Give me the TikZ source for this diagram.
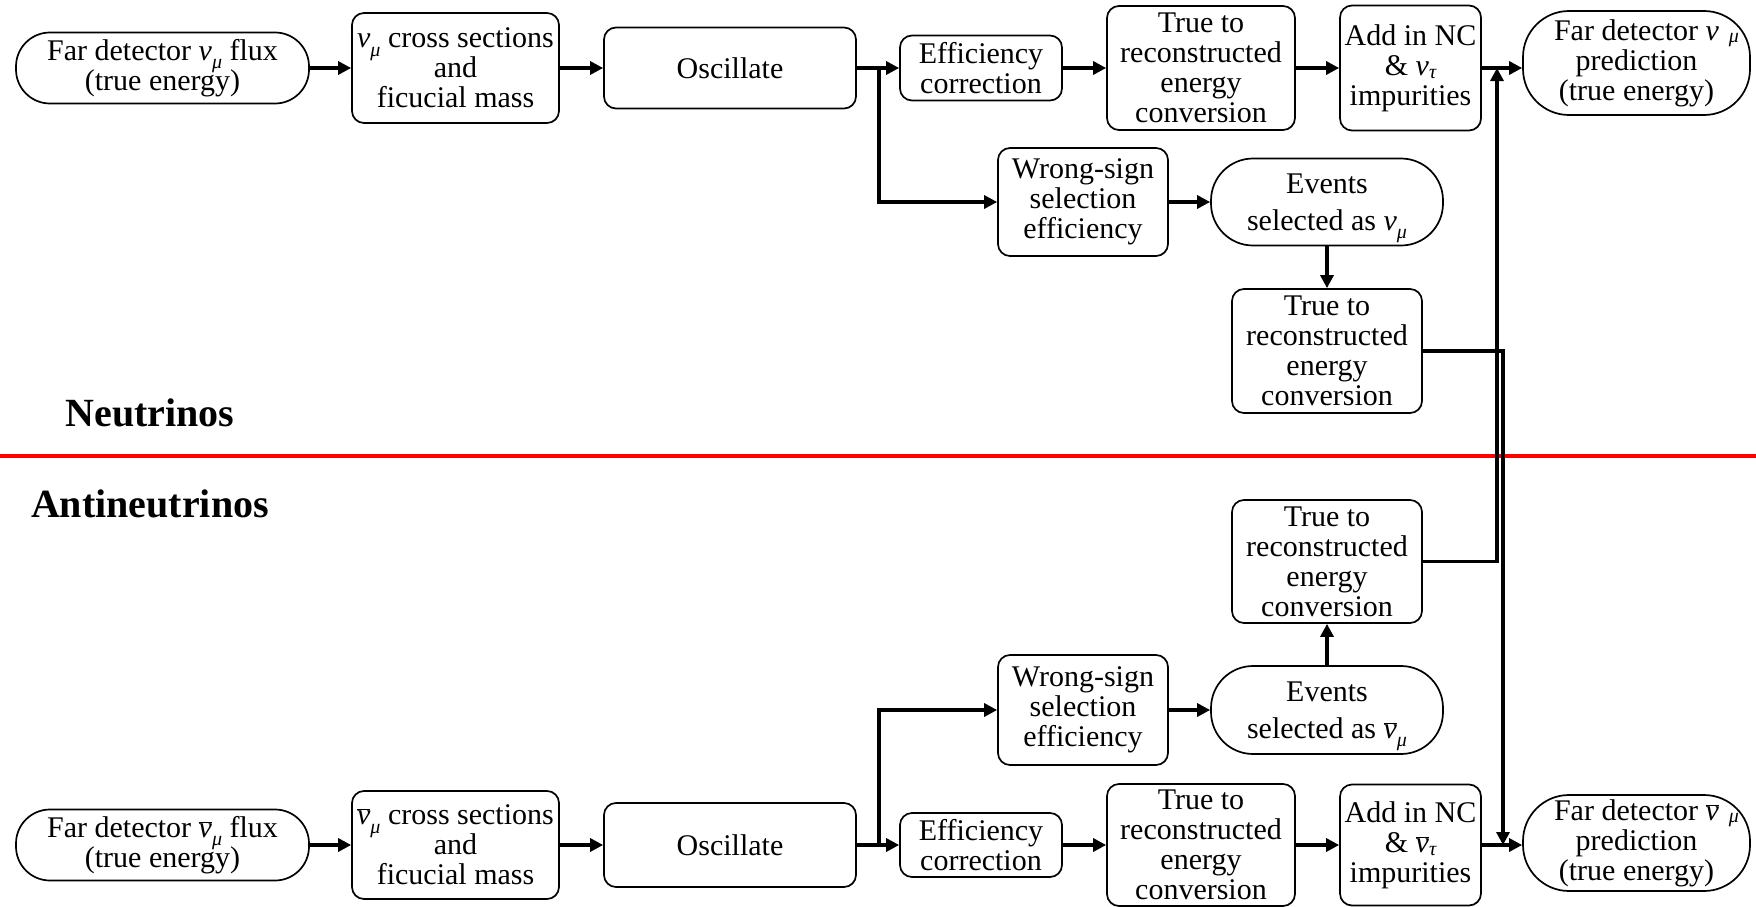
\documentclass[tikz,border=0pt]{standalone}
\usepackage{fontspec}
\setmainfont{Liberation Serif}
\usetikzlibrary{arrows.meta}

% neutrino symbols
\newcommand\nuit{{\itshape ν}}
\newcommand\nubarit{\ensuremath{\overline{\hbox{\itshape ν}}}}
\newcommand\lowsub[1]{\raisebox{-0.6ex}[0pt][0pt]{\fontsize{20}{20}\selectfont\itshape #1}}
\newcommand\tausub{\raisebox{-0.25ex}[0pt][0pt]{\fontsize{20}{20}\selectfont\itshape τ}}
\newcommand\sidemu{\rlap{\hspace{10pt}\raisebox{-0.15ex}{\fontsize{20}{20}\selectfont\itshape μ}}}

\begin{document}
\begin{tikzpicture}[x=1pt, y=-1pt,
  font=\fontsize{30}{30}\selectfont,
  pbox/.style={draw, line width=1.7pt, rounded corners=12pt, align=center, inner sep=0pt},
  pill/.style={draw, line width=1.7pt, rounded corners=#1, align=center, inner sep=0pt},
  pill/.default=34pt,
  arr/.style={line width=3.1pt, -{Triangle[length=13pt,width=13pt]}},
  section/.style={font=\fontsize{40}{40}\selectfont\bfseries}]

\useasboundingbox (0,0) rectangle (1756,907);

% separator between the two halves
\draw[red, line width=4pt] (0,456) -- (1756,456);
\node[section] (lnu) at (150,413) {Neutrinos};
\node[section] (lan) at (150,504) {Antineutrinos};

% ---------------- neutrino chain ----------------
\node[pill, minimum width=293pt, minimum height=71pt] (fluxnu) at (162.5,68)
  {Far detector \nuit\lowsub{μ} flux\\(true energy)};
\node[pbox, minimum width=207pt, minimum height=110pt] (xsecnu) at (455.5,68)
  {\nuit\lowsub{μ} cross sections\\and\\ficucial mass};
\node[pbox, minimum width=252pt, minimum height=81pt] (oscnu) at (730,68) {Oscillate};
\node[pbox, minimum width=162pt, minimum height=65pt] (effnu) at (981,68) {Efficiency\\correction};
\node[pbox, minimum width=188pt, minimum height=124pt] (recnu) at (1201,68)
  {True to\\reconstructed\\energy\\conversion};
\node[pbox, minimum width=141pt, minimum height=125pt] (ncnu) at (1410.5,68)
  {Add in NC\\\& \nuit\tausub\\impurities};
\node[pill=46pt, minimum width=227pt, minimum height=104pt] (prednu) at (1636.5,63)
  {Far detector \nuit\sidemu\\prediction\\(true energy)};

\node[pbox, minimum width=170pt, minimum height=108pt] (wsnu) at (1083,202)
  {Wrong-sign\\selection\\efficiency};
\node[pill=42pt, minimum width=232pt, minimum height=87pt] (evnu) at (1327,202)
  {Events\\[7pt]selected as \nuit\lowsub{μ}};
\node[pbox, minimum width=190pt, minimum height=124pt] (recwsnu) at (1327,351)
  {True to\\reconstructed\\energy\\conversion};

% ---------------- antineutrino chain ----------------
\node[pill, minimum width=293pt, minimum height=71pt] (fluxan) at (162.5,845)
  {Far detector \nubarit\lowsub{μ} flux\\(true energy)};
\node[pbox, minimum width=207pt, minimum height=108pt] (xsecan) at (455.5,845)
  {\nubarit\lowsub{μ} cross sections\\and\\ficucial mass};
\node[pbox, minimum width=252pt, minimum height=84pt] (oscan) at (730,845) {Oscillate};
\node[pbox, minimum width=162pt, minimum height=64pt] (effan) at (981,845) {Efficiency\\correction};
\node[pbox, minimum width=188pt, minimum height=122pt] (recan) at (1201,845)
  {True to\\reconstructed\\energy\\conversion};
\node[pbox, minimum width=141pt, minimum height=121pt] (ncan) at (1410.5,845)
  {Add in NC\\\& \nubarit\tausub\\impurities};
\node[pill=46pt, minimum width=227pt, minimum height=96pt] (predan) at (1636.5,843)
  {Far detector \nubarit\sidemu\\prediction\\(true energy)};

\node[pbox, minimum width=170pt, minimum height=110pt] (wsan) at (1083,710)
  {Wrong-sign\\selection\\efficiency};
\node[pill=42pt, minimum width=232pt, minimum height=88pt] (evan) at (1327,710)
  {Events\\[7pt]selected as \nubarit\lowsub{μ}};
\node[pbox, minimum width=190pt, minimum height=123pt] (recwsan) at (1327,561.5)
  {True to\\reconstructed\\energy\\conversion};

% branch points and merge points
\coordinate (splitnu) at (879,68);
\coordinate (splitan) at (879,845);
\coordinate (mergenu) at (1497,68);
\coordinate (mergean) at (1503,845);

% ---------------- connectors ----------------
\draw[arr] (fluxnu) -- (xsecnu);
\draw[arr] (xsecnu) -- (oscnu);
\draw[arr] (oscnu) -- (effnu);
\draw[arr] (effnu) -- (recnu);
\draw[arr] (recnu) -- (ncnu);
\draw[arr] (ncnu.east) -- (ncnu.east -| prednu.west);
\draw[arr] (splitnu) |- (wsnu.west);
\draw[arr] (wsnu) -- (evnu);
\draw[arr] (evnu) -- (recwsnu);
\draw[arr] (recwsnu.east) -| (mergean);

\draw[arr] (fluxan) -- (xsecan);
\draw[arr] (xsecan) -- (oscan);
\draw[arr] (oscan) -- (effan);
\draw[arr] (effan) -- (recan);
\draw[arr] (recan) -- (ncan);
\draw[arr] (ncan.east) -- (ncan.east -| predan.west);
\draw[arr] (splitan) |- (wsan.west);
\draw[arr] (wsan) -- (evan);
\draw[arr] (evan) -- (recwsan);
\draw[arr] (recwsan.east) -| (mergenu);

\end{tikzpicture}
\end{document}
